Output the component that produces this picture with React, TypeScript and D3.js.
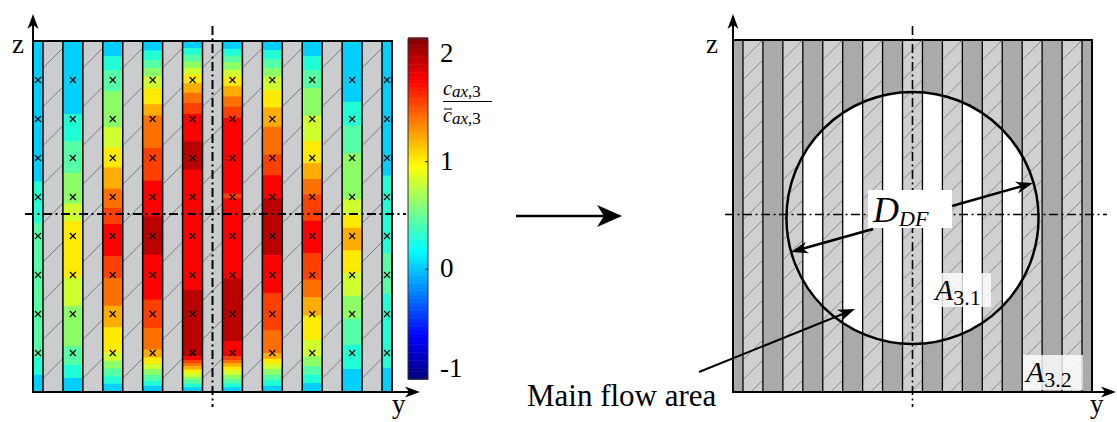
import React from 'react';
import * as d3 from 'd3';

const W = 1117;
const H = 422;
const serif = '"Liberation Serif", "Times New Roman", "DejaVu Serif", serif';

// rows of measurement points (crosses), z in row-pitch units: 0 = top edge, 9 = bottom edge
const crossRows = [1, 2, 3, 4, 5, 6, 7, 8];
const ribCount = 9;

// c_ax,3 / mean per channel: [z where the band starts, value]
const ch0 = [[0, 0.0], [3.6, 0.2], [4.67, 0.4], [8.13, 0.2], [8.56, 0.0]];
const ch1 = [[0, 0.0], [1.87, 0.2], [2.57, 0.4], [3.38, 0.6], [4.17, 0.8], [4.61, 1.0], [6.06, 0.8], [6.79, 0.6], [7.83, 0.4], [8.3, 0.2], [8.64, 0.0]];
const ch2 = [[0, 0.0], [0.39, 0.2], [0.75, 0.4], [1.29, 0.6], [2.21, 0.8], [2.73, 1.0], [3.24, 1.15], [3.79, 1.35], [4.28, 1.55], [4.69, 1.7], [5.52, 1.55], [6.08, 1.35], [6.79, 1.15], [7.34, 1.0], [8.0, 0.8], [8.2, 0.6], [8.4, 0.4], [8.6, 0.2], [8.79, 0.0]];
const ch3 = [[0, 0.0], [0.24, 0.2], [0.48, 0.4], [0.69, 0.6], [0.91, 0.8], [1.22, 1.0], [1.62, 1.15], [1.91, 1.35], [2.74, 1.55], [3.58, 1.7], [4.5, 1.9], [5.48, 1.7], [6.63, 1.55], [7.36, 1.35], [7.91, 1.15], [8.11, 1.0], [8.28, 0.8], [8.41, 0.6], [8.56, 0.4], [8.71, 0.2], [8.84, 0.0]];
const ch4 = [[0, 0.0], [0.18, 0.2], [0.35, 0.4], [0.52, 0.6], [0.69, 0.8], [0.86, 1.0], [1.08, 1.15], [1.33, 1.35], [1.59, 1.55], [1.87, 1.7], [2.57, 1.9], [3.3, 1.7], [6.38, 1.9], [8.08, 1.7], [8.18, 1.55], [8.26, 1.35], [8.33, 1.15], [8.42, 1.0], [8.5, 0.8], [8.61, 0.6], [8.69, 0.4], [8.79, 0.2], [8.88, 0.0]];
const ch5 = [[0, 0.0], [0.2, 0.2], [0.37, 0.4], [0.54, 0.6], [0.74, 0.8], [0.91, 1.0], [1.15, 1.15], [1.42, 1.35], [1.69, 1.55], [1.97, 1.7], [3.91, 1.55], [4.03, 1.7], [6.09, 1.9], [7.7, 1.7], [8.08, 1.55], [8.18, 1.35], [8.26, 1.15], [8.35, 1.0], [8.45, 0.8], [8.56, 0.6], [8.67, 0.4], [8.78, 0.2], [8.88, 0.0]];
const ch6 = [[0, 0.0], [0.23, 0.2], [0.47, 0.4], [0.7, 0.6], [0.91, 0.8], [1.26, 1.0], [1.7, 1.15], [2.2, 1.35], [2.91, 1.55], [3.44, 1.7], [4.03, 1.9], [5.49, 1.7], [6.46, 1.55], [7.42, 1.35], [8.0, 1.15], [8.15, 1.0], [8.28, 0.8], [8.41, 0.6], [8.56, 0.4], [8.69, 0.2], [8.84, 0.0]];
const ch7 = [[0, 0.0], [0.39, 0.2], [0.75, 0.4], [1.21, 0.6], [1.91, 0.8], [2.56, 1.0], [3.13, 1.15], [3.54, 1.35], [3.94, 1.55], [4.61, 1.7], [5.44, 1.55], [6.12, 1.35], [6.57, 1.15], [7.04, 1.0], [7.66, 0.8], [8.09, 0.6], [8.34, 0.4], [8.56, 0.2], [8.77, 0.0]];
const ch8 = [[0, 0.0], [1.56, 0.2], [2.16, 0.4], [2.87, 0.6], [4.05, 0.8], [4.45, 1.0], [4.79, 1.15], [5.37, 1.0], [5.95, 0.8], [6.53, 0.6], [7.13, 0.4], [7.79, 0.2], [8.41, 0.0]];
const ch9 = [[0, 0.0], [3.45, 0.2], [5.44, 0.4], [6.49, 0.2], [8.38, 0.0]];
const channels = [ch0, ch1, ch2, ch3, ch4, ch5, ch6, ch7, ch8, ch9];

const cbTicks = [-1, 0, 1, 2];

// 16 level jet used for the channel shading
const palette = ['#00008f', '#0000cf', '#0010ff', '#0050ff', '#0090ff', '#00d0ff', '#20ffd6', '#55ffa5',
  '#8cff66', '#d0ff30', '#ffeb00', '#ffad00', '#ff7000', '#ff4000', '#ff0000', '#bb0000'];

const yL = d3.scaleLinear().domain([0, 18]).range([33, 392]);
const yR = d3.scaleLinear().domain([0, 18]).range([733, 1092]);
const zL = d3.scaleLinear().domain([0, 9]).range([41, 392]);
const zR = d3.scaleLinear().domain([0, 9]).range([40, 392]);
const colorQ = d3.scaleQuantize<string>().domain([-1, 2]).range(palette);
const cb = d3.scaleLinear().domain([-1, 2]).range([377, 54]);

const clamp = (v) => Math.max(0, Math.min(1, v));
const jet = (t) => {
  const r = clamp(Math.min(4 * t - 1.5, -4 * t + 4.5));
  const g = clamp(Math.min(4 * t - 0.5, -4 * t + 3.5));
  const b = clamp(Math.min(4 * t + 0.5, -4 * t + 2.5));
  return d3.rgb(r * 255, g * 255, b * 255).toString();
};

const chanSpan = (i) => [Math.max(0, 2 * i - 0.5), Math.min(18, 2 * i + 0.5)];
const ribSpan = (j) => [2 * j + 0.5, 2 * j + 1.5];

const hatch = (xL, xR, yTop, yBot, sp, phase) => {
  const w = xR - xL;
  const out = [];
  let yc = phase;
  while (yc > yTop - w) yc -= sp;
  for (; yc < yBot + w; yc += sp) out.push([xL, yc + w / 2, xR, yc - w / 2]);
  return out;
};

// stealth arrow head, tip at (x2, y2)
const head = (x1, y1, x2, y2, len, half) => {
  const a = Math.atan2(y2 - y1, x2 - x1);
  const pts = [[0, 0], [-len, -half], [-len * 0.72, 0], [-len, half]].map(([px, py]) => [
    x2 + px * Math.cos(a) - py * Math.sin(a),
    y2 + px * Math.sin(a) + py * Math.cos(a),
  ]);
  return 'M' + pts.map((p) => p.join(',')).join('L') + 'Z';
};

const Arrow = ({ x1, y1, x2, y2, len = 15, half = 5.5, sw = 2 }) => {
  const d = Math.hypot(x2 - x1, y2 - y1);
  const k = (d - len * 0.7) / d;
  return (
    <g>
      <line x1={x1} y1={y1} x2={x1 + (x2 - x1) * k} y2={y1 + (y2 - y1) * k} stroke="#000" strokeWidth={sw} />
      <path d={head(x1, y1, x2, y2, len, half)} fill="#000" />
    </g>
  );
};

export default function App() {
  const cbSteps = d3.range(-1.02, 2.14, 0.025);
  const circ = { cx: yR(9), cy: zR(4.55), r: yR(6.32) - yR(0) };

  return (
    <svg width={W} height={H} style={{ position: 'absolute', left: 0, top: 0, background: '#fff', fontFamily: serif }}>
      <defs>
        <clipPath id="clipL"><rect x={yL(0)} y={zL(0)} width={yL(18) - yL(0)} height={zL(9) - zL(0)} /></clipPath>
        <clipPath id="clipR"><rect x={yR(0)} y={zR(0)} width={yR(18) - yR(0)} height={zR(9) - zR(0)} /></clipPath>
        <clipPath id="clipC"><circle cx={circ.cx} cy={circ.cy} r={circ.r} /></clipPath>
      </defs>

      {/* left panel: measured channel values */}
      <g>
        {channels.map((prof, i) => {
          const [u0, u1] = chanSpan(i);
          return prof.map((p, k) => {
            const z0 = p[0];
            const z1 = k + 1 < prof.length ? prof[k + 1][0] : 9;
            return (
              <rect key={`c${i}-${k}`} x={yL(u0)} y={zL(z0)} width={yL(u1) - yL(u0)}
                height={zL(z1) - zL(z0) + (k + 1 < prof.length ? 0.6 : 0)} fill={colorQ(p[1])} />
            );
          });
        })}
        {d3.range(ribCount).map((j) => {
          const [u0, u1] = ribSpan(j);
          return <rect key={`r${j}`} x={yL(u0)} y={zL(0)} width={yL(u1) - yL(u0)} height={zL(9) - zL(0)} fill="#cbcccd" />;
        })}
        <g clipPath="url(#clipL)">
          {d3.range(ribCount).flatMap((j) => {
            const [u0, u1] = ribSpan(j);
            return hatch(yL(u0), yL(u1), zL(0), zL(9), 38.8, 58).map((l, k) => (
              <line key={`h${j}-${k}`} x1={l[0]} y1={l[1]} x2={l[2]} y2={l[3]} stroke="#666" strokeWidth={0.8} />
            ));
          })}
        </g>
        {d3.range(1, 18).map((u) => (
          <line key={`s${u}`} x1={yL(u - 0.5)} y1={zL(0)} x2={yL(u - 0.5)} y2={zL(9)} stroke="#000" strokeWidth={1.5} />
        ))}
        <line x1={yL(17.5)} y1={zL(0)} x2={yL(17.5)} y2={zL(9)} stroke="#000" strokeWidth={1.5} />
        {channels.flatMap((_, i) => {
          const [u0, u1] = chanSpan(i);
          const cx = yL((u0 + u1) / 2);
          return crossRows.map((r) => {
            const cy = zL(r);
            return (
              <path key={`x${i}-${r}`} d={`M${cx - 3},${cy - 3}L${cx + 3},${cy + 3}M${cx - 3},${cy + 3}L${cx + 3},${cy - 3}`}
                stroke="#000" strokeWidth={1.1} />
            );
          });
        })}
        <rect x={yL(0)} y={zL(0)} width={yL(18) - yL(0)} height={zL(9) - zL(0)} fill="none" stroke="#000" strokeWidth={2} />
        <line x1={yL(9)} y1={26} x2={yL(9)} y2={407} stroke="#000" strokeWidth={2} strokeDasharray="9 3.5 2 3.5" />
        <line x1={25} y1={214} x2={406} y2={214} stroke="#000" strokeWidth={2} strokeDasharray="9 3.5 2 3.5" />
        <Arrow x1={yL(0)} y1={zL(9)} x2={yL(0)} y2={14} />
        <Arrow x1={yL(0)} y1={zL(9)} x2={420} y2={zL(9)} />
        <text x={12} y={53} fontSize={27}>z</text>
        <text x={392} y={413} fontSize={27}>y</text>
      </g>

      {/* colorbar */}
      <g>
        {cbSteps.map((v) => (
          <rect key={`cb${v}`} x={408} y={cb(v + 0.025)} width={20} height={cb(v) - cb(v + 0.025) + 0.5}
            fill={jet((v + 1.02) / 3.16)} />
        ))}
        <rect x={408} y={cb(2.14)} width={20} height={cb(-1.02) - cb(2.14)} fill="none" stroke="#333" strokeWidth={1} />
        {cbTicks.map((t) => (
          <g key={`t${t}`}>
            <line x1={425} x2={428} y1={cb(t)} y2={cb(t)} stroke="#222" strokeWidth={1.2} />
            <text x={440} y={Math.min(cb(t) + 8, 377)} fontSize={27}>{t}</text>
          </g>
        ))}
        <text x={443} y={95} fontSize={20} fontStyle="italic">c<tspan fontSize={17} dy={2}>ax</tspan><tspan fontSize={17} fontStyle="normal">,3</tspan></text>
        <line x1={443} x2={492} y1={101.5} y2={101.5} stroke="#000" strokeWidth={1} />
        <text x={443} y={122} fontSize={20} fontStyle="italic">c<tspan fontSize={17} dy={2}>ax</tspan><tspan fontSize={17} fontStyle="normal">,3</tspan></text>
        <line x1={444} x2={452} y1={109} y2={109} stroke="#000" strokeWidth={1} />
      </g>

      {/* transition arrow */}
      <Arrow x1={516} y1={216} x2={622} y2={216} len={25} half={11} sw={2.5} />

      {/* right panel: flow areas */}
      <g>
        {channels.map((_, i) => {
          const [u0, u1] = chanSpan(i);
          return <rect key={`dc${i}`} x={yR(u0)} y={zR(0)} width={yR(u1) - yR(u0)} height={zR(9) - zR(0)} fill="#aaaaaa" />;
        })}
        <g clipPath="url(#clipC)">
          {channels.map((_, i) => {
            const [u0, u1] = chanSpan(i);
            return <rect key={`wc${i}`} x={yR(u0)} y={zR(0)} width={yR(u1) - yR(u0)} height={zR(9) - zR(0)} fill="#fff" />;
          })}
        </g>
        {d3.range(ribCount).map((j) => {
          const [u0, u1] = ribSpan(j);
          return <rect key={`rr${j}`} x={yR(u0)} y={zR(0)} width={yR(u1) - yR(u0)} height={zR(9) - zR(0)} fill="#d0d0d2" />;
        })}
        <g clipPath="url(#clipR)">
          {d3.range(ribCount).flatMap((j) => {
            const [u0, u1] = ribSpan(j);
            return hatch(yR(u0), yR(u1), zR(0), zR(9), 20, 50).map((l, k) => (
              <line key={`hr${j}-${k}`} x1={l[0]} y1={l[1]} x2={l[2]} y2={l[3]} stroke="#777" strokeWidth={0.8} />
            ));
          })}
        </g>
        {d3.range(1, 18).map((u) => (
          <line key={`sr${u}`} x1={yR(u - 0.5)} y1={zR(0)} x2={yR(u - 0.5)} y2={zR(9)} stroke="#000" strokeWidth={1.3} />
        ))}
        <line x1={yR(17.5)} y1={zR(0)} x2={yR(17.5)} y2={zR(9)} stroke="#000" strokeWidth={1.3} />
        <circle cx={circ.cx} cy={circ.cy} r={circ.r} fill="none" stroke="#000" strokeWidth={2.5} />
        <rect x={yR(0)} y={zR(0)} width={yR(18) - yR(0)} height={zR(9) - zR(0)} fill="none" stroke="#000" strokeWidth={2} />
        <line x1={yR(9)} y1={26} x2={yR(9)} y2={407} stroke="#000" strokeWidth={1.6} strokeDasharray="9 3.5 2 3.5" />
        <line x1={725} y1={214.5} x2={1107} y2={214.5} stroke="#000" strokeWidth={1.6} strokeDasharray="9 3.5 2 3.5" />

        <rect x={868} y={190} width={84} height={38} fill="#fff" />
        <text x={873} y={222} fontSize={36} fontStyle="italic">D<tspan fontSize={22} dy={4}>DF</tspan></text>
        <Arrow x1={952} y1={206} x2={1033} y2={183} len={17} half={6} sw={2.5} />
        <Arrow x1={873} y1={229} x2={791} y2={252} len={17} half={6} sw={2.5} />

        <rect x={933} y={273} width={58} height={34} fill="#fff" fillOpacity={0.8} />
        <text x={935} y={300} fontSize={30} fontStyle="italic">A<tspan fontSize={22} fontStyle="normal" dy={5}>3.1</tspan></text>
        <rect x={1023} y={355} width={60} height={35} fill="#fff" fillOpacity={0.8} />
        <text x={1026} y={382} fontSize={30} fontStyle="italic">A<tspan fontSize={22} fontStyle="normal" dy={5}>3.2</tspan></text>

        <Arrow x1={699} y1={372} x2={855} y2={309} len={17} half={6} sw={2} />
        <text x={527} y={406} fontSize={31}>Main flow area</text>

        <Arrow x1={yR(0)} y1={zR(9)} x2={yR(0)} y2={14} />
        <Arrow x1={yR(0)} y1={zR(9)} x2={1116} y2={zR(9)} />
        <text x={706} y={53} fontSize={27}>z</text>
        <text x={1090} y={413} fontSize={27}>y</text>
      </g>
    </svg>
  );
}
